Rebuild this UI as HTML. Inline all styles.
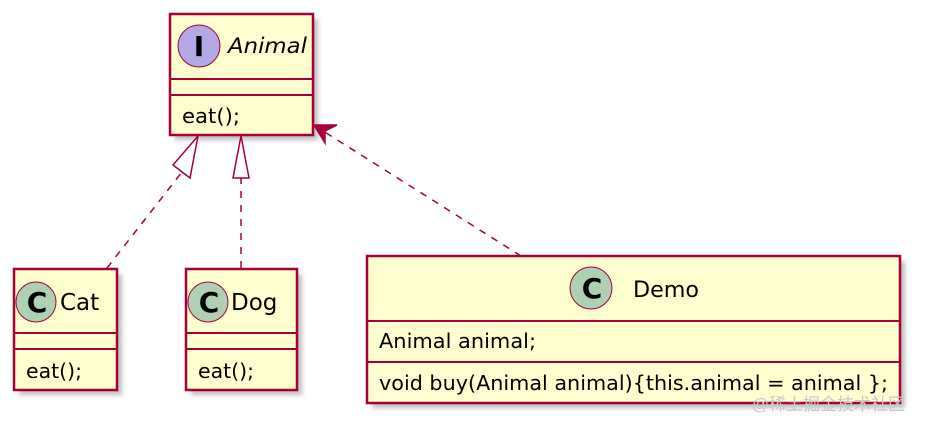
<!DOCTYPE html>
<html><head><meta charset="utf-8"><style>
html,body{margin:0;padding:0;background:#fff;width:925px;height:429px;overflow:hidden}
svg text{font-family:"DejaVu Sans","Liberation Sans",sans-serif}
</style></head><body>
<svg width="925" height="429" viewBox="0 0 925 429" xmlns="http://www.w3.org/2000/svg">
<defs><filter id="sh" x="-10%" y="-10%" width="130%" height="130%"><feGaussianBlur stdDeviation="2.5"/></filter></defs>
<g fill="#888" opacity="0.55" filter="url(#sh)">
<rect x="175" y="19" width="143" height="121"/>
<rect x="19" y="274" width="103" height="121"/>
<rect x="191" y="274" width="111" height="121"/>
<rect x="372" y="261" width="533" height="147"/>
</g>
<g stroke="#A80036" stroke-width="1.5" fill="none">
<line x1="107" y1="268" x2="182" y2="172" stroke-dasharray="7,7"/>
<polygon points="198,136 190,178 173,165" fill="#fff"/>
<line x1="241" y1="268" x2="241" y2="178" stroke-dasharray="7,7"/>
<polygon points="241,136 233,178 249,178" fill="#fff"/>
<line x1="521" y1="256" x2="320" y2="129" stroke-dasharray="7,7"/>
<polygon points="314,125 337,125 325,131 325,143" fill="#A80036"/>
</g>
<g stroke="#A80036" stroke-width="2.5" fill="#FEFECE">
<rect x="170" y="14" width="143" height="121"/>
<rect x="14" y="269" width="103" height="121"/>
<rect x="186" y="269" width="111" height="121"/>
<rect x="367" y="256" width="533" height="147"/>
</g>
<g stroke="#A80036" stroke-width="2">
<line x1="170" y1="79" x2="313" y2="79"/><line x1="170" y1="95" x2="313" y2="95"/>
<line x1="14" y1="333" x2="117" y2="333"/><line x1="14" y1="349" x2="117" y2="349"/>
<line x1="186" y1="333" x2="297" y2="333"/><line x1="186" y1="349" x2="297" y2="349"/>
<line x1="367" y1="321" x2="900" y2="321"/><line x1="367" y1="362" x2="900" y2="362"/>
</g>
<g stroke="#A80036" stroke-width="1">
<circle cx="199" cy="46" r="21" fill="#B4A7E5"/>
<circle cx="36" cy="302" r="20" fill="#ADD1B2"/>
<circle cx="208" cy="302" r="20" fill="#ADD1B2"/>
<circle cx="591" cy="288" r="21" fill="#ADD1B2"/>
</g>
<g font-weight="bold" font-size="28" text-anchor="middle" fill="#000">
<text x="199" y="56">I</text>
<text x="37" y="312">C</text>
<text x="209" y="312">C</text>
<text x="592" y="298">C</text>
</g>
<g font-size="20" fill="#000">
<text x="228" y="53" font-style="italic" font-size="21" textLength="79" lengthAdjust="spacingAndGlyphs">Animal</text>
<text x="182" y="123" textLength="58" lengthAdjust="spacingAndGlyphs">eat();</text>
<text x="60" y="310" font-size="23">Cat</text>
<text x="231" y="310" font-size="23">Dog</text>
<text x="26" y="378" textLength="56" lengthAdjust="spacingAndGlyphs">eat();</text>
<text x="198" y="378" textLength="56" lengthAdjust="spacingAndGlyphs">eat();</text>
<text x="633" y="297" font-size="22" textLength="66" lengthAdjust="spacingAndGlyphs">Demo</text>
<text x="379" y="348" textLength="157" lengthAdjust="spacingAndGlyphs">Animal animal;</text>
<text x="379" y="390" textLength="509" lengthAdjust="spacingAndGlyphs">void buy(Animal animal){this.animal = animal  };</text>
</g>
<text x="905" y="410" text-anchor="end" font-size="17" fill="#c8c8c8" style='font-family:"Liberation Sans","Noto Sans CJK SC",sans-serif'>@稀土掘金技术社区</text>
</svg>
</body></html>
